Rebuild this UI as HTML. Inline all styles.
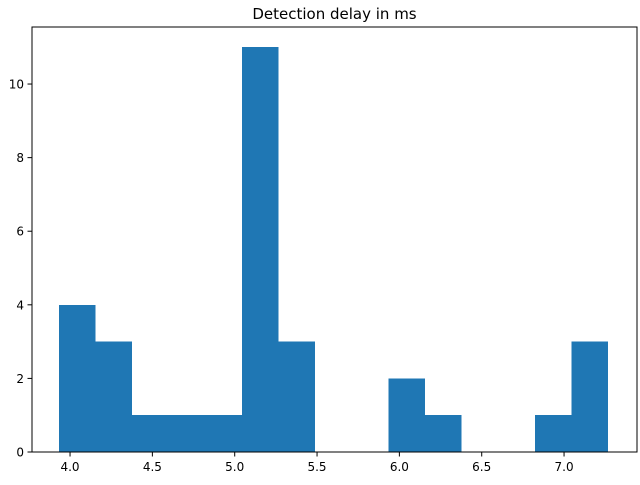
<!DOCTYPE html>
<html><head><meta charset="utf-8"><style>
body{margin:0;background:#fff;}
svg text{font-family:"DejaVu Sans","Liberation Sans",sans-serif;}
</style></head><body>
<svg id="chart" width="640" height="480"></svg>
<script>
const binStart = 3.9333;
const binWidth = 0.22222;
const counts = [4,3,1,1,1,11,3,0,0,2,1,0,0,1,3];
const xTicks = [4.0,4.5,5.0,5.5,6.0,6.5,7.0];
const xTickLabels = ["4.0","4.5","5.0","5.5","6.0","6.5","7.0"];
const yTicks = [0,2,4,6,8,10];
const yTickLabels = ["0","2","4","6","8","10"];
const titleText = "Detection delay in ms";

const L=32,R=637,T=27,B=452;
const xMin=3.769,xMax=7.443,yMin=0,yMax=11.55;
const xs=v=>L+(v-xMin)/(xMax-xMin)*(R-L);
const ys=v=>B-(v-yMin)/(yMax-yMin)*(B-T);
const NS="http://www.w3.org/2000/svg";
const svg=document.getElementById('chart');
function mk(t,a,p){const e=document.createElementNS(NS,t);for(const k in a)e.setAttribute(k,a[k]);(p||svg).appendChild(e);return e;}

const bars=mk('g',{'shape-rendering':'crispEdges'});


counts.forEach((c,i)=>{
  const x0=xs(binStart+i*binWidth),x1=xs(binStart+(i+1)*binWidth);
  const r=mk('rect',{x:x0,y:ys(c),width:x1-x0,height:ys(0)-ys(c),fill:'#1f77b4'},bars);
  
  
});

const frame=mk('rect',{x:L,y:T,width:R-L,height:B-T,fill:'none',stroke:'#000','stroke-width':1});



xTicks.forEach((v,i)=>{
  const x=xs(v);
  mk('line',{x1:x,x2:x,y1:B,y2:B+4.5,stroke:'#000'});
  const t=mk('text',{x:x,y:B+19,'font-size':12,'text-anchor':'middle'});
  t.textContent=xTickLabels[i];
  
  
});
yTicks.forEach((v,i)=>{
  const y=ys(v);
  mk('line',{x1:L,x2:L-4.5,y1:y,y2:y,stroke:'#000'});
  const t=mk('text',{x:L-8,y:y+4.5,'font-size':12,'text-anchor':'end'});
  t.textContent=yTickLabels[i];
  
  
});
const title=mk('text',{x:(L+R)/2,y:T-8,'font-size':15,'text-anchor':'middle'});
title.textContent=titleText;


</script>
</body></html>
